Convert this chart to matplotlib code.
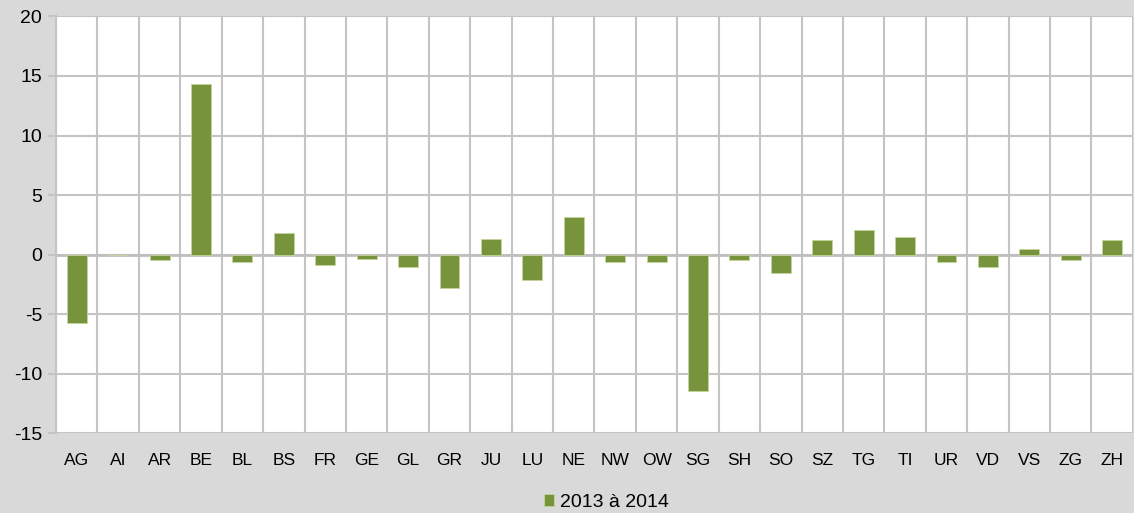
import matplotlib.pyplot as plt
import numpy as np

plt.rcParams['font.family'] = ['Liberation Sans', 'DejaVu Sans']
plt.rcParams['axes.unicode_minus'] = False

cantons = ['AG', 'AI', 'AR', 'BE', 'BL', 'BS', 'FR', 'GE', 'GL', 'GR', 'JU', 'LU', 'NE',
           'NW', 'OW', 'SG', 'SH', 'SO', 'SZ', 'TG', 'TI', 'UR', 'VD', 'VS', 'ZG', 'ZH']
change_2013_2014 = [-5.7, 0.0, -0.4, 14.3, -0.65, 1.8, -0.9, -0.35, -1.0, -2.75, 1.3, -2.1, 3.2,
                    -0.65, -0.6, -11.45, -0.45, -1.5, 1.25, 2.05, 1.5, -0.6, -1.05, 0.45, -0.4, 1.2]
series_label = '2013 à 2014'

bg = '#d9d9d9'
grid_col = '#c4c4c4'
bar_col = '#77933c'

fig = plt.figure(figsize=(11.34, 5.13), dpi=100, facecolor=bg)
ax = fig.add_axes([0.0494, 0.155, 0.9496, 0.813])
ax.set_facecolor('white')

x = np.arange(len(cantons))
ax.bar(x, change_2013_2014, width=0.48, color=bar_col, edgecolor='#c3d69b',
       linewidth=0.6, label=series_label, zorder=3)

ax.set_xlim(-0.5, len(cantons) - 0.5)
ax.set_ylim(-15, 20)
ax.set_yticks(np.arange(-15, 21, 5))
ax.set_xticks(x)
ax.set_xticklabels(cantons)
ax.set_xticks(np.arange(-0.5, len(cantons), 1), minor=True)

ax.grid(True, which='major', axis='y', color=grid_col, linewidth=1.5, zorder=1)
ax.grid(True, which='minor', axis='x', color=grid_col, linewidth=1.5, zorder=1)
ax.axhline(0, color='#bfbfbf', linewidth=2, zorder=2)

for s in ['top', 'right', 'bottom']:
    ax.spines[s].set_visible(False)
ax.spines['left'].set_color(grid_col)
ax.spines['left'].set_linewidth(1.5)

ax.tick_params(axis='y', which='major', length=6, width=1.5, color=grid_col,
               labelsize=14, pad=4, labelcolor='#000000')
ax.tick_params(axis='x', which='major', length=0, labelsize=12.5, pad=14)
ax.tick_params(axis='x', which='minor', length=0)

fig.legend(loc='lower center', bbox_to_anchor=(0.535, -0.03), ncol=1, frameon=False,
           fontsize=14, handlelength=0.52, handleheight=0.52, handletextpad=0.3)

plt.savefig('out.png', dpi=100, facecolor=bg)
